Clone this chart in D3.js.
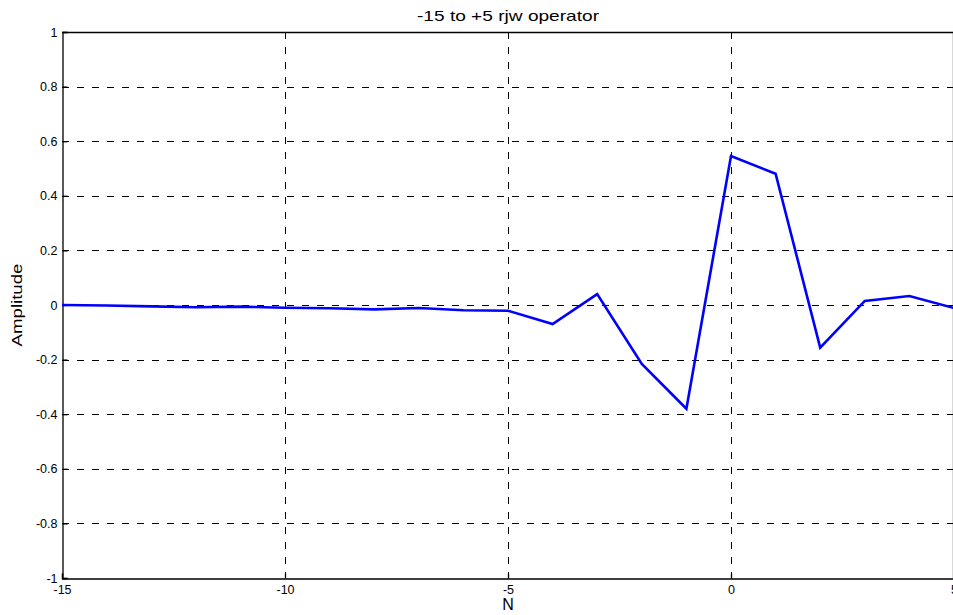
<!DOCTYPE html>
<html>
<head>
<meta charset="utf-8">
<script src="https://cdn.jsdelivr.net/npm/d3@7"></script>
<style>
  html, body { margin: 0; padding: 0; background: #fff; overflow: hidden; }
  svg { display: block; }
  text { font-family: "Liberation Sans", Arial, sans-serif; fill: #000; }
</style>
</head>
<body>
<svg id="chart" width="953" height="615"></svg>
<script>
// Sample positions of the operator and its amplitudes
const samples = [-15, -14, -13, -12, -11, -10, -9, -8, -7, -6, -5, -4, -3, -2, -1, 0, 1, 2, 3, 4, 5];
const amplitude = [0.0, -0.002, -0.005, -0.008, -0.006, -0.01, -0.012, -0.016, -0.011, -0.019, -0.021,
                   -0.07, 0.04, -0.216, -0.38, 0.546, 0.481, -0.156, 0.015, 0.033, -0.011];
const xTicks = [-15, -10, -5, 0, 5];
const yTicks = [-1, -0.8, -0.6, -0.4, -0.2, 0, 0.2, 0.4, 0.6, 0.8, 1];

const svg = d3.select("#chart");
const plotLeft = 62, plotTop = 32, plotW = 892, plotH = 546;

const x = d3.scaleLinear().domain([-15, 5]).range([plotLeft, plotLeft + plotW]);
const y = d3.scaleLinear().domain([-1, 1]).range([plotTop + plotH, plotTop]);

// Dashed grid
const dash = "7,8";
const grid = svg.append("g");
grid.selectAll("line.vx").data(xTicks.slice(1, -1)).join("line")
  .attr("x1", d => Math.round(x(d)) + 0.5).attr("x2", d => Math.round(x(d)) + 0.5)
  .attr("y1", plotTop).attr("y2", plotTop + plotH)
  .attr("stroke", "#000").attr("stroke-width", 1).attr("stroke-dasharray", dash);
grid.selectAll("line.hy").data(yTicks.slice(1, -1)).join("line")
  .attr("y1", d => Math.round(y(d)) + 0.5).attr("y2", d => Math.round(y(d)) + 0.5)
  .attr("x1", plotLeft).attr("x2", plotLeft + plotW)
  .attr("stroke", "#000").attr("stroke-width", 1).attr("stroke-dasharray", dash);

// Axes with inward ticks, plain hyphen minus signs
const xAxis = d3.axisBottom(x).tickValues(xTicks).tickFormat(d => String(d)).tickSize(-5).tickPadding(6);
const yAxis = d3.axisLeft(y).tickValues(yTicks).tickFormat(d => String(d)).tickSize(-5).tickPadding(5);

const gx = svg.append("g").attr("transform", `translate(0,${plotTop + plotH + 0.5})`).call(xAxis);
const gy = svg.append("g").attr("transform", `translate(${plotLeft + 0.5},0)`).call(yAxis);
[gx, gy].forEach(g => {
  g.selectAll("path, line").attr("stroke", "#000").attr("stroke-width", 1.3);
  g.selectAll("text").attr("font-size", 12.5).style("font-family", '"Liberation Sans", Arial, sans-serif');
});
gx.selectAll("text").attr("y", 15).attr("dy", 0);

// Top and right border
svg.append("line").attr("x1", plotLeft).attr("x2", plotLeft + plotW)
  .attr("y1", plotTop + 0.5).attr("y2", plotTop + 0.5).attr("stroke", "#000").attr("stroke-width", 1.3);
svg.append("line").attr("x1", plotLeft + plotW - 0.5).attr("x2", plotLeft + plotW - 0.5)
  .attr("y1", plotTop).attr("y2", plotTop + plotH).attr("stroke", "#000").attr("stroke-width", 1.3);

// Series
const line = d3.line().x((d, i) => x(samples[i])).y(d => y(d));
svg.append("path").datum(amplitude)
  .attr("d", line).attr("fill", "none")
  .attr("stroke", "#0000ff").attr("stroke-width", 2.6).attr("stroke-linejoin", "miter");

// Labels
svg.append("text").attr("x", x(-5)).attr("y", 21).attr("text-anchor", "middle")
  .attr("font-size", 15).attr("textLength", 182).attr("lengthAdjust", "spacingAndGlyphs")
  .text("-15 to +5 rjw operator");
svg.append("text").attr("x", x(-5)).attr("y", 610).attr("text-anchor", "middle")
  .attr("font-size", 16).text("N");
svg.append("text").attr("transform", `translate(22,${y(0)}) rotate(-90)`).attr("text-anchor", "middle")
  .attr("font-size", 15).attr("textLength", 83).attr("lengthAdjust", "spacingAndGlyphs")
  .text("Amplitude");
</script>
</body>
</html>
